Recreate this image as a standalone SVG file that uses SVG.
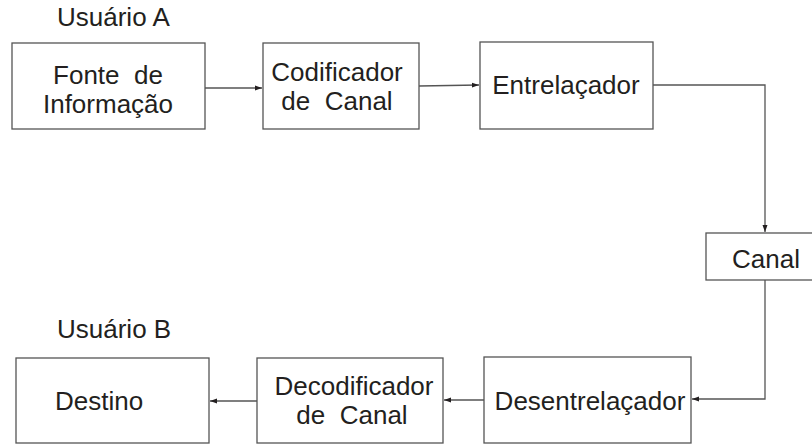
<svg xmlns="http://www.w3.org/2000/svg" width="812" height="445" viewBox="0 0 812 445">
<style>
.box{fill:#fff;stroke:#555;stroke-width:1.3}
.t{font-family:"Liberation Sans",Arial,sans-serif;font-size:26px;fill:#231f20;white-space:pre}
.c{text-anchor:middle}
.ln{fill:none;stroke:#555;stroke-width:1.3}
</style>
<defs>
<marker id="ah" markerWidth="8" markerHeight="6" refX="7" refY="3" orient="auto" markerUnits="userSpaceOnUse">
<path d="M0,0.5 L7,3 L0,5.5 Z" fill="#231f20"/>
</marker>
</defs>
<text class="t" x="57" y="26">Usuário A</text>
<text class="t" x="57" y="338">Usuário B</text>
<g id="fonte"><rect class="box" x="12" y="43" width="193" height="86"/><text class="t c" x="108" y="84">Fonte&#160; de</text><text class="t c" x="108" y="113">Informação</text></g>
<g id="codificador"><rect class="box" x="263" y="43" width="156" height="86"/><text class="t c" x="337" y="81">Codificador</text><text class="t c" x="337" y="110">de&#160; Canal</text></g>
<g id="entrelacador"><rect class="box" x="480" y="42" width="173" height="87"/><text class="t c" x="566" y="94">Entrelaçador</text></g>
<g id="canal"><rect class="box" x="706" y="233" width="110" height="47"/><text class="t c" x="766" y="268">Canal</text></g>
<g id="desentrelacador"><rect class="box" x="484" y="357" width="207" height="86"/><text class="t c" x="590" y="410">Desentrelaçador</text></g>
<g id="decodificador"><rect class="box" x="257" y="358" width="186" height="85"/><text class="t c" x="354" y="395">Decodificador</text><text class="t c" x="352" y="424">de&#160; Canal</text></g>
<g id="destino"><rect class="box" x="16" y="358" width="193" height="85"/><text class="t" x="55" y="410">Destino</text></g>
<g id="connectors">
<path class="ln" d="M205,88 L262,88" marker-end="url(#ah)"/>
<path class="ln" d="M419,86 L479,85" marker-end="url(#ah)"/>
<path class="ln" d="M653,85 L765,85 L765,232" marker-end="url(#ah)"/>
<path class="ln" d="M765,280 L765,399 L692,399" marker-end="url(#ah)"/>
<path class="ln" d="M484,400 L444,400" marker-end="url(#ah)"/>
<path class="ln" d="M257,401 L210,401" marker-end="url(#ah)"/>
</g>
</svg>
